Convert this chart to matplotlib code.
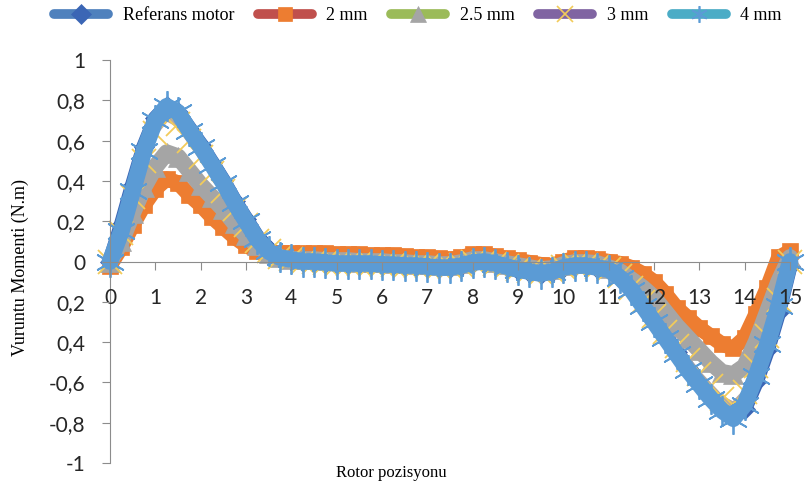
import numpy as np
import matplotlib.pyplot as plt
from matplotlib.lines import Line2D

# rotor position grid (deg), one sample every 0.25
rotor_pos = np.arange(0, 15.001, 0.25)

ref_motor = [0.00, 0.18, 0.38, 0.57,
             0.71, 0.77, 0.74, 0.66,
             0.58, 0.49, 0.40, 0.30,
             0.21, 0.12, 0.06, 0.02,
             0.01, 0.00, 0.00, -0.005,
             -0.01, -0.01, -0.01, -0.01,
             -0.015, -0.015, -0.02, -0.02,
             -0.025, -0.03, -0.03, -0.02,
             -0.005, 0.00, -0.01, -0.025,
             -0.04, -0.05, -0.06, -0.05,
             -0.03, -0.02, -0.02, -0.03,
             -0.04, -0.08, -0.14, -0.21,
             -0.29, -0.37, -0.45, -0.53,
             -0.60, -0.67, -0.73, -0.77,
             -0.73, -0.60, -0.44, -0.25,
             -0.02]

mm_2 = [-0.02, 0.07, 0.18, 0.28,
        0.36, 0.41, 0.39, 0.33,
        0.28, 0.22, 0.17, 0.12,
        0.08, 0.05, 0.04, 0.04,
        0.04, 0.04, 0.04, 0.04,
        0.035, 0.035, 0.035, 0.03,
        0.03, 0.03, 0.025, 0.02,
        0.02, 0.015, 0.01, 0.02,
        0.035, 0.035, 0.025, 0.015,
        0.005, -0.005, -0.015, -0.02,
        0.00, 0.015, 0.015, 0.01,
        0.00, -0.01, -0.03, -0.06,
        -0.10, -0.16, -0.23, -0.28,
        -0.33, -0.37, -0.41, -0.43,
        -0.38, -0.26, -0.13, 0.02,
        0.05]

mm_2_5 = [0.00, 0.10, 0.24, 0.37,
          0.47, 0.54, 0.52, 0.45,
          0.38, 0.32, 0.26, 0.19,
          0.13, 0.08, 0.04, 0.02,
          0.01, 0.01, 0.01, 0.005,
          0.005, 0.005, 0.00, 0.00,
          0.00, -0.005, -0.005, -0.01,
          -0.01, -0.015, -0.015, -0.005,
          0.01, 0.01, 0.00, -0.01,
          -0.02, -0.03, -0.04, -0.035,
          -0.015, -0.005, -0.005, -0.01,
          -0.03, -0.05, -0.09, -0.13,
          -0.18, -0.25, -0.32, -0.38,
          -0.44, -0.50, -0.55, -0.56,
          -0.52, -0.40, -0.25, -0.10,
          0.02]

mm_3 = [0.00, 0.14, 0.32, 0.50,
        0.64, 0.71, 0.68, 0.60,
        0.52, 0.44, 0.35, 0.26,
        0.18, 0.10, 0.05, 0.02,
        0.01, 0.00, 0.00, -0.005,
        -0.01, -0.01, -0.01, -0.01,
        -0.015, -0.015, -0.02, -0.02,
        -0.02, -0.025, -0.025, -0.015,
        0.00, 0.00, -0.01, -0.02,
        -0.035, -0.045, -0.055, -0.045,
        -0.025, -0.015, -0.015, -0.025,
        -0.035, -0.07, -0.13, -0.20,
        -0.27, -0.35, -0.42, -0.49,
        -0.56, -0.62, -0.68, -0.71,
        -0.65, -0.52, -0.37, -0.19,
        0.00]

mm_4 = [0.00, 0.15, 0.35, 0.55,
        0.70, 0.77, 0.74, 0.65,
        0.57, 0.48, 0.39, 0.29,
        0.20, 0.11, 0.05, 0.02,
        0.01, 0.00, 0.00, -0.005,
        -0.01, -0.01, -0.01, -0.01,
        -0.015, -0.015, -0.02, -0.02,
        -0.025, -0.03, -0.03, -0.02,
        -0.005, 0.00, -0.01, -0.025,
        -0.04, -0.05, -0.06, -0.05,
        -0.03, -0.02, -0.02, -0.03,
        -0.04, -0.08, -0.14, -0.22,
        -0.30, -0.38, -0.46, -0.54,
        -0.61, -0.68, -0.74, -0.78,
        -0.71, -0.57, -0.41, -0.22,
        0.00]

labels = ['Referans motor', '2 mm', '2.5 mm', '3 mm', '4 mm']
series = [ref_motor, mm_2, mm_2_5, mm_3, mm_4]
line_colors = ['#4F81BD', '#C0504D', '#9BBB59', '#8064A2', '#4BACC6']
marker_colors = ['#3B66B5', '#ED7D31', '#A5A5A5', '#F2CB5A', '#5B9BD5']
markers = ['D', 's', '^', 'x', (6, 2, 0)]
marker_sizes = [10, 12, 15, 17, 22]
band_widths = [11, 11, 12, 4, 12]

ytick_vals = [-1, -0.8, -0.6, -0.4, -0.2, 0, 0.2, 0.4, 0.6, 0.8, 1]
ytick_labels = ['-1', '-0,8', '-0,6', '0,4', '0,2', '0', '0,2', '0,4', '0,6', '0,8', '1']
xtick_vals = list(range(0, 16))

fig = plt.figure(figsize=(8.05, 4.87), dpi=100)
ax = fig.add_axes([110 / 805, 1 - 463 / 487, 680 / 805, 403 / 487])

for i, (vals, lab) in enumerate(zip(series, labels)):
    band = marker_colors[i] if i != 3 else '#B8A9A0'
    ax.plot(rotor_pos, vals, color=band, lw=band_widths[i],
            solid_joinstyle='round', solid_capstyle='round',
            clip_on=False, zorder=2 + i * 0.1)
    ax.plot(rotor_pos, vals, ls='none', marker=markers[i],
            ms=marker_sizes[i], mfc=marker_colors[i], mec=marker_colors[i],
            mew=1.3 if i in (3, 4) else 0.5, clip_on=False,
            zorder=2.05 + i * 0.1)

ax.set_xlim(0, 15)
ax.set_ylim(-1, 1)
ax.set_axisbelow(False)
for s in ['top', 'right']:
    ax.spines[s].set_visible(False)
ax.spines['bottom'].set_position(('data', 0))
ax.spines['bottom'].set_color('#8C8C8C')
ax.spines['left'].set_color('#8C8C8C')

tick_font = dict(family='Lato', size=15, color='#262626')
ax.set_xticks(xtick_vals)
ax.set_xticklabels([str(v) for v in xtick_vals], **tick_font)
ax.set_yticks(ytick_vals)
ax.set_yticklabels(ytick_labels, **tick_font)
ax.tick_params(axis='x', direction='out', length=6, color='#8C8C8C', pad=13)
ax.tick_params(axis='y', direction='out', length=6, color='#8C8C8C', pad=12)

fig.text(20 / 805, 1 - 268 / 487, 'Vuruntu Momenti (N.m)', rotation=90,
         ha='center', va='center', family='Liberation Serif', size=13)
fig.text(391 / 805, 1 - 473 / 487, 'Rotor pozisyonu', ha='center', va='center',
         family='Liberation Serif', size=12)

handles = [Line2D([], [], color=line_colors[i], lw=7, solid_capstyle='round',
                  marker=markers[i], ms=[10, 10, 11, 11, 12][i],
                  mfc=marker_colors[i], mec=marker_colors[i],
                  mew=1.2 if i in (3, 4) else 0.5)
           for i in range(5)]
fig.legend(handles, labels, loc='center', bbox_to_anchor=(418 / 805, 1 - 16 / 487),
           ncol=5, frameon=False, handlelength=3.0, handletextpad=0.8,
           columnspacing=1.3, prop={'family': 'Liberation Serif', 'size': 13})

plt.savefig('out.png', dpi=100)
